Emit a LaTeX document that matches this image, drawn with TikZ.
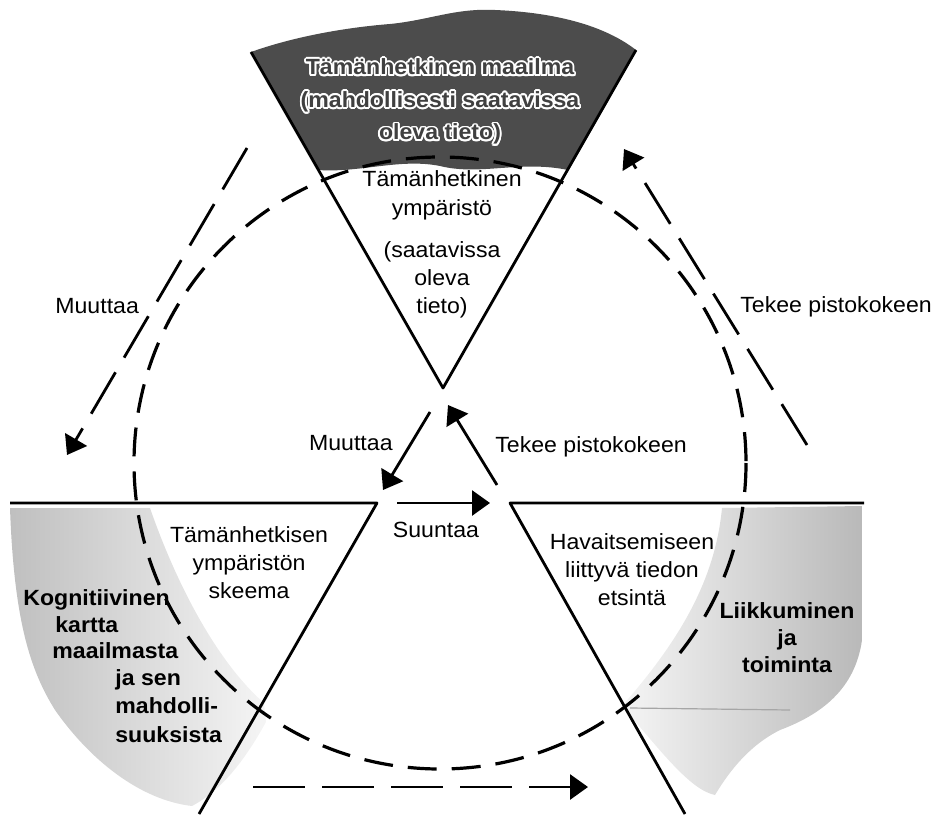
\documentclass[tikz,border=0pt]{standalone}
\usepackage{fontspec}
\setmainfont{Liberation Sans}[FakeStretch=1.05]
\usepackage[copies]{contour}
\contourlength{0.9pt}
\usetikzlibrary{arrows.meta}

\begin{document}
\begin{tikzpicture}[x=0.5pt, y=-0.5pt, line join=round, >={Triangle[length=9pt,width=12.5pt]},
	font=\fontsize{11}{14}\selectfont,
	rim/.style={line width=1.4pt},
	cycledash/.style={line width=1.6pt, dash pattern=on 14.5pt off 7.5pt},
	longdash/.style={line width=1.4pt, dash pattern=on 24pt off 8.5pt, ->},
	solidarrow/.style={line width=1.4pt, ->},
	lbl/.style={inner sep=0pt, align=center},
	boldlbl/.style={inner sep=0pt, align=center, font=\fontsize{11}{13.5}\selectfont\bfseries}]

	\useasboundingbox (0,0) rectangle (946,818);

	% Kolmioiden kulmat
	\coordinate (T1) at (251,52);
	\coordinate (T2) at (636,50);
	\coordinate (T0) at (443,388);
	\coordinate (L1) at (10,503);
	\coordinate (L2) at (377,503);
	\coordinate (L3) at (199,814);
	\coordinate (R1) at (510,503);
	\coordinate (R2) at (864,503);
	\coordinate (R3) at (685,814);
	\coordinate (C) at (440,463);

	% Harmaat alueet
	\shade[left color=gray!50, right color=gray!8]
		(10,508) -- (150,508) .. controls (175,580) and (215,660) .. (264,703)
		-- (266,722) .. controls (245,760) and (222,790) .. (192,806)
		.. controls (140,800) and (90,760) .. (55,710)
		.. controls (30,670) and (14,620) .. (10,508) -- cycle;
	\shade[left color=gray!8, right color=gray!55]
		(722,508) -- (862,506) -- (862,640) .. controls (855,690) and (820,715) .. (780,730)
		.. controls (750,745) and (730,770) .. (715,795)
		.. controls (690,790) and (660,750) .. (622,706)
		.. controls (680,640) and (715,580) .. (722,508) -- cycle;
	\draw[gray!70, line width=0.6pt] (630,708) -- (790,710);

	% Tumma maailma-alue
	\fill[black!70] (T1) .. controls (290,38) and (340,28) .. (390,24)
		.. controls (430,20) and (455,8) .. (495,10)
		.. controls (545,12) and (600,22) .. (T2)
		-- (568,170) .. controls (520,160) and (480,176) .. (440,166)
		.. controls (400,158) and (360,173) .. (318,170) -- cycle;

	% Kolmiot ja kehä
	\draw[rim] (T1) -- (T0) -- (T2);
	\draw[rim] (L1) -- (L2) -- (L3);
	\draw[rim] (R2) -- (R1) -- (R3);
	\draw[cycledash] (C) circle (306);

	% Tekstit (base = viimeisen rivin perusviiva)
	\node[lbl, anchor=base, font=\fontsize{11}{16.3}\selectfont\bfseries, text=black!75] (maailma) at (440,140)
		{\contour{white}{Tämänhetkinen maailma}\\\contour{white}{(mahdollisesti saatavissa}\\\contour{white}{oleva tieto)}};
	\node[lbl, anchor=base] (ymparisto) at (442,215) {Tämänhetkinen\\ympäristö};
	\node[lbl, anchor=base] (saatavissa) at (442,313) {(saatavissa\\oleva\\tieto)};
	\node[lbl, anchor=base] (skeema) at (249,598) {Tämänhetkisen\\ympäristön\\skeema};
	\node[lbl, anchor=base] (etsinta) at (632,605) {Havaitsemiseen\\liittyvä tiedon\\etsintä};
	\node[lbl, anchor=base] (suuntaa) at (436,537) {Suuntaa};
	\node[lbl, anchor=base east] (muuttaaI) at (393,450) {Muuttaa};
	\node[lbl, anchor=base west] (tekeeI) at (495,452) {Tekee pistokokeen};
	\node[lbl, anchor=base west] (muuttaaO) at (55,313) {Muuttaa};
	\node[lbl, anchor=base west] (tekeeO) at (740,312) {Tekee pistokokeen};
	\node[boldlbl, anchor=base] (liikkuminen) at (787,672) {Liikkuminen\\ja\\toiminta};
	\foreach \xx/\yy/\word [count=\i] in {23/605/Kognitiivinen, 55/632/kartta, 52/658/maailmasta,
		115/685/ja sen, 115/713/mahdolli-, 115/742/suuksista} {
		\node[boldlbl, anchor=base west] (kartta\i) at (\xx,\yy) {\word};
	}

	% Nuolet
	\coordinate (mO1) at (247,148);
	\coordinate (mO2) at (67,455);
	\coordinate (tO1) at (807,445);
	\coordinate (tO2) at (624,149);
	\coordinate (mI1) at (430,412);
	\coordinate (mI2) at (383,490);
	\coordinate (tI1) at (497,485);
	\coordinate (tI2) at (448,405);
	\coordinate (sA1) at (397,503);
	\coordinate (sA2) at (490,503);
	\coordinate (bA1) at (253,787);
	\coordinate (bA2) at (588,787);
	\draw[longdash] (mO1) -- (mO2);
	\draw[longdash] (tO1) -- (tO2);
	\draw[longdash, dash pattern=on 26pt off 8.5pt] (bA1) -- (bA2);
	\draw[solidarrow] (mI1) -- (mI2);
	\draw[solidarrow] (tI1) -- (tI2);
	\draw[solidarrow] (sA1) -- (sA2);

\end{tikzpicture}
\end{document}
